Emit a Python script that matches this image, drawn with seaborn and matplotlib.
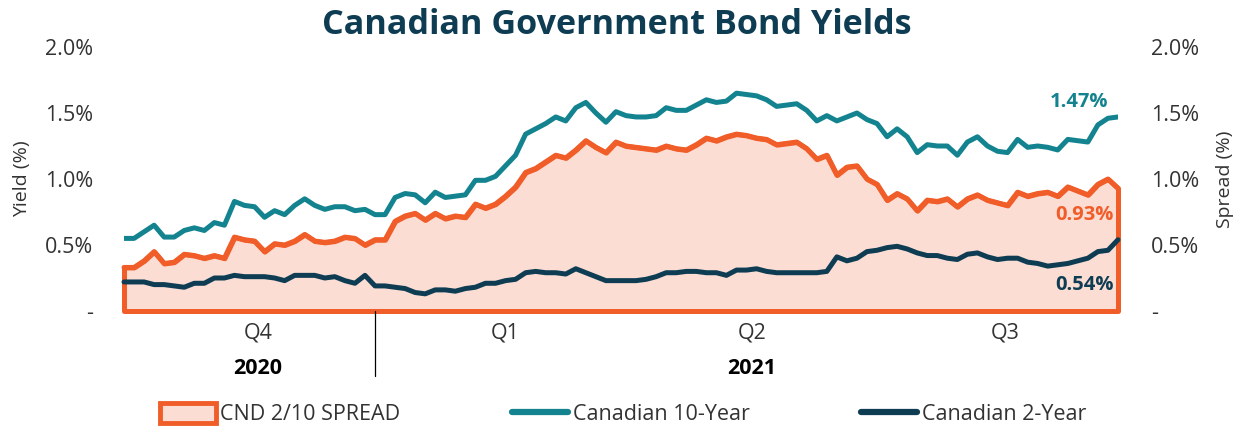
import numpy as np
import pandas as pd
import seaborn as sns
import matplotlib
matplotlib.use("Agg")
import matplotlib.pyplot as plt
from matplotlib.patches import Patch
from matplotlib.lines import Line2D
import matplotlib.transforms as mtransforms

# ---------------- data ----------------
yield_10y = [0.55, 0.55, 0.60, 0.65, 0.56, 0.56, 0.61, 0.63, 0.61, 0.67,
             0.65, 0.83, 0.80, 0.79, 0.71, 0.76, 0.73, 0.80, 0.85, 0.80,
             0.77, 0.79, 0.79, 0.76, 0.77, 0.73, 0.73, 0.86, 0.89, 0.88,
             0.82, 0.90, 0.86, 0.87, 0.88, 0.99, 0.99, 1.02, 1.10, 1.18,
             1.34, 1.38, 1.42, 1.47, 1.44, 1.54, 1.58, 1.50, 1.43, 1.51,
             1.48, 1.47, 1.47, 1.48, 1.54, 1.52, 1.52, 1.56, 1.60, 1.58,
             1.59, 1.65, 1.64, 1.63, 1.60, 1.55, 1.56, 1.57, 1.52, 1.44,
             1.48, 1.44, 1.47, 1.50, 1.45, 1.42, 1.32, 1.38, 1.32, 1.20,
             1.26, 1.25, 1.25, 1.18, 1.28, 1.32, 1.25, 1.21, 1.20, 1.30,
             1.24, 1.25, 1.24, 1.22, 1.30, 1.29, 1.28, 1.41, 1.46, 1.47]

yield_2y = [0.22, 0.22, 0.22, 0.20, 0.20, 0.19, 0.18, 0.21, 0.21, 0.25,
            0.25, 0.27, 0.26, 0.26, 0.26, 0.25, 0.23, 0.27, 0.27, 0.27,
            0.25, 0.26, 0.23, 0.21, 0.27, 0.19, 0.19, 0.18, 0.17, 0.14,
            0.13, 0.16, 0.16, 0.15, 0.17, 0.18, 0.21, 0.21, 0.23, 0.24,
            0.29, 0.30, 0.29, 0.29, 0.28, 0.32, 0.29, 0.26, 0.23, 0.23,
            0.23, 0.23, 0.24, 0.26, 0.29, 0.29, 0.30, 0.30, 0.29, 0.29,
            0.27, 0.31, 0.31, 0.32, 0.30, 0.29, 0.29, 0.29, 0.29, 0.29,
            0.30, 0.41, 0.38, 0.40, 0.45, 0.46, 0.48, 0.49, 0.47, 0.44,
            0.42, 0.42, 0.40, 0.39, 0.43, 0.44, 0.41, 0.39, 0.40, 0.40,
            0.37, 0.36, 0.34, 0.35, 0.36, 0.38, 0.40, 0.45, 0.46, 0.54]

quarter_labels = ["Q4", "Q1", "Q2", "Q3"]
year_labels = ["2020", "2021"]
ytick_values = [0.0, 0.5, 1.0, 1.5, 2.0]
ytick_labels = ["-", "0.5%", "1.0%", "1.5%", "2.0%"]
series_names = ["CND 2/10 SPREAD", "Canadian 10-Year", "Canadian 2-Year"]

# ---------------- styling ----------------
TEAL = "#13838F"
NAVY = "#0E3D53"
ORANGE = "#F15D28"
FILL = "#FBDDD4"
TXT = "#333333"
FS = 15.5

sns.set_style("white")
plt.rcParams["font.family"] = ["Open Sans", "DejaVu Sans"]

df = pd.DataFrame({
    "t": np.arange(len(yield_10y)),
    "ten": yield_10y,
    "two": yield_2y,
})
df["spread"] = df["ten"] - df["two"]

W, H = 1242, 430
fig = plt.figure(figsize=(W / 100, H / 100), dpi=100)
L, R, T, B = 124, 1118, 47, 311
ax = fig.add_axes([L / W, 1 - B / H, (R - L) / W, (B - T) / H])

# spread area with orange outline
ax.fill_between(df["t"], 0, df["spread"], facecolor=FILL, edgecolor=ORANGE,
                linewidth=3.6, clip_on=False, zorder=1, joinstyle="round")
sns.lineplot(data=df, x="t", y="spread", ax=ax, color=ORANGE, linewidth=3.6,
             zorder=2, clip_on=False)
sns.lineplot(data=df, x="t", y="ten", ax=ax, color=TEAL, linewidth=3.6, zorder=3)
sns.lineplot(data=df, x="t", y="two", ax=ax, color=NAVY, linewidth=3.6, zorder=4,
             clip_on=False)

n = len(df)
ax.set_xlim(0, n - 1)
ax.set_ylim(0, 2.0)
ax.set_yticks(ytick_values)
ax.set_yticklabels(ytick_labels)
ax.set_xticks([])
ax.set_xlabel("")
ax.set_ylabel("Yield (%)", fontsize=14, color=TXT, labelpad=10)
ax.tick_params(axis="y", length=0, labelsize=FS, labelcolor=TXT, pad=22)
for s in ax.spines.values():
    s.set_visible(False)

ax2 = ax.twinx()
ax2.set_ylim(0, 2.0)
ax2.set_yticks(ytick_values)
ax2.set_yticklabels(ytick_labels)
ax2.set_ylabel("Spread (%)", fontsize=14, color=TXT, labelpad=12)
ax2.tick_params(axis="y", length=0, labelsize=FS, labelcolor=TXT, pad=24)
for s in ax2.spines.values():
    s.set_visible(False)

# end-value labels
ax.text(98, 1.58, f"{df['ten'].iloc[-1]:.2f}%", color=TEAL, fontsize=14.5,
        fontweight="bold", ha="right", va="center")
ax.text(98.6, 0.73, f"{df['spread'].iloc[-1]:.2f}%", color=ORANGE, fontsize=14.5,
        fontweight="bold", ha="right", va="center")
ax.text(98.6, 0.20, f"{df['two'].iloc[-1]:.2f}%", color=NAVY, fontsize=14.5,
        fontweight="bold", ha="right", va="center")

# quarter / year axis
trans = mtransforms.blended_transform_factory(ax.transData, ax.transAxes)
px = lambda p: (p - L) / (R - L) * (n - 1)
ax.plot([px(375), px(375)], [0, -(376 - B) / (B - T)], color="black",
        linewidth=0.9, transform=trans, clip_on=False)
for lab, p in zip(quarter_labels, [258, 505, 752, 1005]):
    ax.text(px(p), -(333 - B) / (B - T), lab, transform=trans, ha="center",
            va="center", fontsize=FS, color=TXT)
for lab, p in zip(year_labels, [258, 752]):
    ax.text(px(p), -(369 - B) / (B - T), lab, transform=trans, ha="center",
            va="center", fontsize=FS, color="black", fontweight="bold")

fig.text(617 / W, 1 - 25 / H, "Canadian Government Bond Yields", ha="center",
         va="center", fontsize=24.6, fontweight="bold", color=NAVY)

handles = [Patch(facecolor=FILL, edgecolor=ORANGE, linewidth=3.5),
           Line2D([0], [0], color=TEAL, linewidth=4.5),
           Line2D([0], [0], color=NAVY, linewidth=4.5)]
fig.legend(handles, series_names, loc="center", bbox_to_anchor=(623 / W, 1 - 414 / H),
           ncol=3, frameon=False, fontsize=FS, handlelength=2.6, handleheight=1.1,
           handletextpad=0.2, columnspacing=5.2, labelcolor=TXT)

fig.savefig("out.png", dpi=100)
